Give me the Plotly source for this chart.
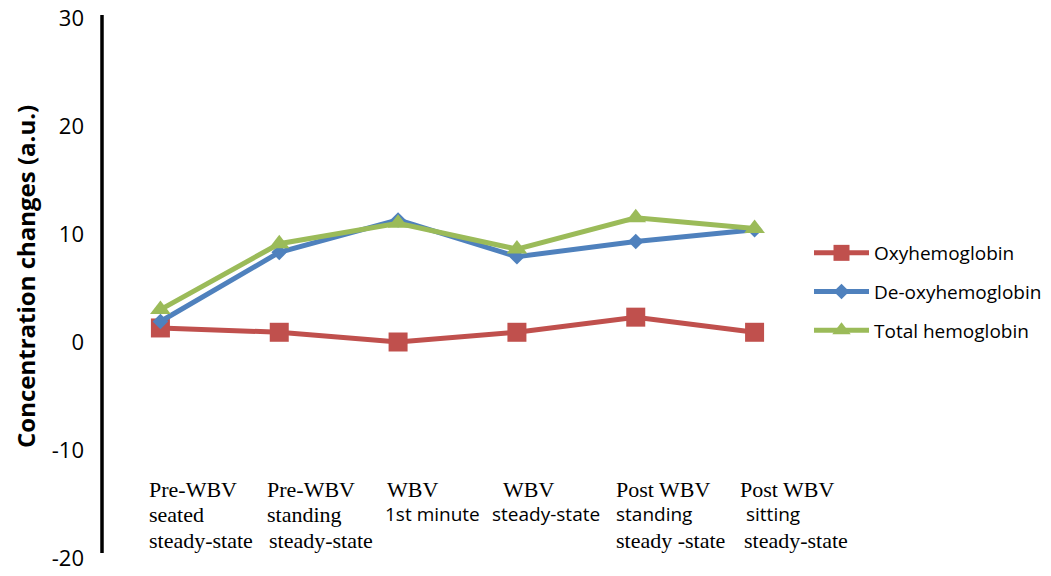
import plotly.graph_objects as go

# Measurement stages (multi-line category captions)
stages = [
    ["Pre-WBV", "seated", "steady-state"],
    ["Pre-WBV", "standing", "steady-state"],
    ["WBV", "1st minute"],
    ["WBV", "steady-state"],
    ["Post WBV", "standing", "steady -state"],
    ["Post WBV", "sitting", "steady-state"],
]

oxyhemoglobin = [1.3, 0.9, 0.0, 0.9, 2.3, 0.9]
deoxyhemoglobin = [1.9, 8.3, 11.3, 7.9, 9.3, 10.4]
total_hemoglobin = [3.0, 9.1, 11.0, 8.6, 11.5, 10.5]

y_ticks = [-20, -10, 0, 10, 20, 30]
y_tick_text = ["-20", "-10", "0", "10", "20", "30"]

# --- styling -------------------------------------------------------------
W, H = 1051, 576
L, R, T, B = 101, 237, 18, 18
PW, PH = W - L - R, H - T - B
SANS = "Open Sans"
SERIF = "Liberation Serif"

# caption font per line ("s" = serif, "n" = sans)
caption_fonts = [
    ["s", "s", "s"],
    ["s", "s", "s"],
    ["s", "n"],
    ["s", "n"],
    ["s", "n", "s"],
    ["s", "n", "s"],
]
# left-edge offset of each caption line from its category centre, px
caption_shift = [
    [-13, -13, -13],
    [-14, -14, -12],
    [-13, -15],
    [-16, -27],
    [-22, -22, -22],
    [-17, -11, -13],
]
caption_rows_px = [489, 514, 540]

series = [
    ("Oxyhemoglobin", oxyhemoglobin, "#C0504D", "square", 19),
    ("De-oxyhemoglobin", deoxyhemoglobin, "#4F81BD", "diamond", 12),
    ("Total hemoglobin", total_hemoglobin, "#9BBB59", "triangle-up", 18),
]

x_idx = list(range(len(stages)))

fig = go.Figure()
for i, (name, vals, color, symbol, size) in enumerate(series):
    fig.add_trace(go.Scatter(
        x=x_idx, y=vals, name=name, mode="lines+markers",
        line=dict(color=color, width=5),
        marker=dict(symbol=symbol, size=size, color=color),
        legendgroup=name,
    ))

annotations = []
for i, lines in enumerate(stages):
    for j, text in enumerate(lines):
        fam = SERIF if caption_fonts[i][j] == "s" else SANS
        size = 22 if fam == SERIF else 19
        annotations.append(dict(
            x=i, xref="x", xanchor="left", xshift=caption_shift[i][j],
            y=(H - B - caption_rows_px[j]) / PH, yref="paper",
            yanchor="middle", text=text, showarrow=False,
            font=dict(family=fam, size=size, color="black"),
        ))

# rotated y-axis title
annotations.append(dict(
    x=(25 - L) / PW, xref="paper", xanchor="center",
    y=1 - (277 - T) / PH, yref="paper", yanchor="middle",
    text="<b>Concentration changes (a.u.)</b>", textangle=-90,
    showarrow=False, font=dict(family=SANS, size=24, color="black"),
))

# vertical axis line (drawn as a shape so its ends can sit freely)
shapes = [dict(
    type="line", xref="paper", yref="paper",
    x0=1 / PW, x1=1 / PW,
    y0=(H - B - 553) / PH, y1=1 + (T - 15) / PH,
    line=dict(color="black", width=3.5),
)]

fig.update_layout(
    width=W, height=H,
    margin=dict(l=L, r=R, t=T, b=B, pad=0, autoexpand=False),
    paper_bgcolor="white", plot_bgcolor="white",
    showlegend=True,
    legend=dict(
        x=(809 - L) / PW, xanchor="left",
        y=1 - (292 - T) / PH, yanchor="middle",
        font=dict(family=SANS, size=19, color="black"),
        tracegroupgap=11, itemwidth=55,
        bgcolor="rgba(0,0,0,0)",
    ),
    annotations=annotations,
    shapes=shapes,
    xaxis=dict(
        range=[-0.5, len(stages) - 0.5], showticklabels=False,
        showgrid=False, zeroline=False, showline=False, ticks="",
        automargin=False,
    ),
    yaxis=dict(
        range=[-20, 30], tickvals=y_ticks, ticktext=y_tick_text,
        showgrid=False, zeroline=False, automargin=False,
        showline=False, ticks="",
        ticklabelstandoff=16,
        tickfont=dict(family=SANS, size=22, color="black"),
    ),
)

fig.write_html("out.html")
